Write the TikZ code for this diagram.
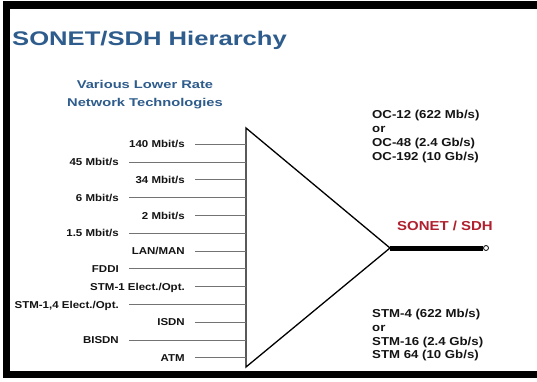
\documentclass[tikz,border=0pt]{standalone}
\usepackage{fontspec}
\setmainfont{Liberation Sans}
\newfontfamily\lblfont{Liberation Sans}[FakeStretch=1.15]
\newfontfamily\ttlfont{Liberation Sans}[FakeStretch=1.3]
\definecolor{hdblue}{HTML}{2E5C8C}
\definecolor{sdhred}{HTML}{B0202E}

\begin{document}
\begin{tikzpicture}[x=1pt,y=-1pt,
  rate/.style={font=\lblfont\bfseries\fontsize{10}{12}\selectfont,text=black!92,anchor=east,inner xsep=10pt,inner ysep=0pt,text height=7.1pt,text depth=0pt},
  feed/.style={draw=black!55,line width=0.9pt},
  outtxt/.style={font=\lblfont\bfseries\fontsize{11.5}{13.8}\selectfont,text=black!92,anchor=base west,inner sep=0pt},
  subtxt/.style={font=\ttlfont\bfseries\fontsize{11.3}{13}\selectfont,text=hdblue,anchor=base,inner sep=0pt}]

\fill[white] (0,0) rectangle (537,381);
\useasboundingbox (0,0) rectangle (537,381);

% frame
\fill[black] (3,1) rectangle (537,9);
\fill[black] (3,1) rectangle (10,378);
\fill[black] (3,371) rectangle (537,378);

\node[font=\ttlfont\bfseries\fontsize{19.7}{22}\selectfont,text=hdblue,anchor=base west,inner sep=0pt] (title) at (12,45.5) {SONET/SDH Hierarchy};
\node[subtxt] (sub1) at (145,88.5) {Various Lower Rate};
\node[subtxt] (sub2) at (145,106) {Network Technologies};

% the multiplexer
\coordinate (top) at (246,128);
\coordinate (bot) at (246,367);
\coordinate (apex) at (390,248);
\draw[line width=1.3pt] (top) -- (apex) -- (bot) -- cycle;

% inputs
\node[rate] (r1) at (195,144.3) {140 Mbit/s};
\node[rate] (r2) at (129,162.1) {45 Mbit/s};
\node[rate] (r3) at (195,179.9) {34 Mbit/s};
\node[rate] (r4) at (129,197.7) {6 Mbit/s};
\node[rate] (r5) at (195,215.5) {2 Mbit/s};
\node[rate] (r6) at (129,233.3) {1.5 Mbit/s};
\node[rate] (r7) at (195,251.1) {LAN/MAN};
\node[rate] (r8) at (129,268.9) {FDDI};
\node[rate] (r9) at (195,286.7) {STM-1 Elect./Opt.};
\node[rate] (r10) at (129,304.5) {STM-1,4 Elect./Opt.};
\node[rate] (r11) at (195,322.3) {ISDN};
\node[rate] (r12) at (129,340.1) {BISDN};
\node[rate] (r13) at (195,357.9) {ATM};

\foreach \i in {1,...,13}
  \draw[feed] (r\i.east) -- (r\i.east -| top);

% output
\node[circle,draw,fill=white,inner sep=0pt,minimum size=5pt,line width=0.8pt] (tip) at (486,248) {};
\draw[line width=5pt] (apex) -- (tip);
\node[font=\lblfont\bfseries\fontsize{13}{15}\selectfont,text=sdhred,anchor=base west,inner sep=0pt] (sdh) at (397,230.4) {SONET / SDH};

\node[outtxt] (oc1) at (372,118.6) {OC-12 (622 Mb/s)};
\node[outtxt] (oc2) at (372,132.4) {or};
\node[outtxt] (oc3) at (372,146.2) {OC-48 (2.4 Gb/s)};
\node[outtxt] (oc4) at (372,160.0) {OC-192 (10 Gb/s)};

\node[outtxt] (stm1) at (372,317.5) {STM-4 (622 Mb/s)};
\node[outtxt] (stm2) at (372,331.3) {or};
\node[outtxt] (stm3) at (372,345.1) {STM-16 (2.4 Gb/s)};
\node[outtxt] (stm4) at (372,358.9) {STM 64 (10 Gb/s)};
\end{tikzpicture}
\end{document}
